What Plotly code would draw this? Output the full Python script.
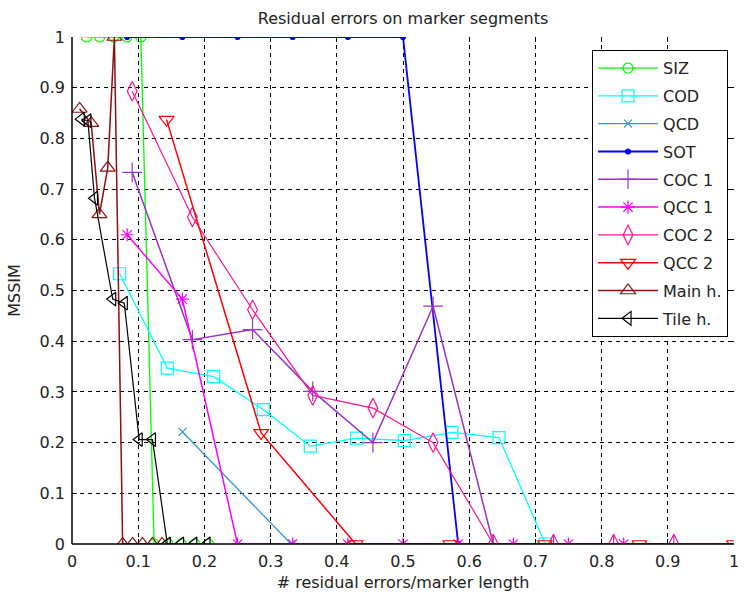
import plotly.graph_objects as go

# ---- data ----
siz_x = [0.022, 0.042, 0.063, 0.083, 0.104, 0.124, 0.145, 0.165, 0.186, 0.206]
siz_y = [1, 1, 1, 1, 1, 0, 0, 0, 0, 0]

cod_x = [0.072, 0.144, 0.214, 0.289, 0.360, 0.430, 0.502, 0.574, 0.645, 0.715]
cod_y = [0.533, 0.347, 0.330, 0.265, 0.193, 0.209, 0.204, 0.220, 0.210, 0.0]

qcd_x = [0.167, 0.331]
qcd_y = [0.221, 0.0]

sot_x = [1/12, 2/12, 3/12, 4/12, 5/12, 6/12, 7/12]
sot_y = [1, 1, 1, 1, 1, 1, 0]

coc1_x = [k/11 for k in range(1, 11)]
coc1_y = [0.733, 0.403, 0.423, 0.301, 0.200, 0.469, 0, 0, 0, 0]

qcc1_x = [k/12 for k in range(1, 11)]
qcc1_y = [0.610, 0.483, 0, 0, 0, 0, 0, 0, 0, 0]

coc2_x = [k/11 for k in range(1, 11)]
coc2_y = [0.893, 0.645, 0.462, 0.293, 0.268, 0.200, 0, 0, 0, 0]

qcc2_x = [k/7 for k in range(1, 8)]
qcc2_y = [0.837, 0.219, 0, 0, 0, 0, 0]

mainh_x = [0.0115, 0.029, 0.0415, 0.054, 0.064, 0.0765, 0.0915, 0.1065, 0.1215, 0.136]
mainh_y = [0.858, 0.830, 0.650, 0.742, 1.0, 0, 0, 0, 0, 0]

tileh_x = [0.014, 0.024, 0.034, 0.0615, 0.079, 0.1015, 0.1215, 0.144, 0.164, 0.184, 0.204]
tileh_y = [0.838, 0.835, 0.682, 0.483, 0.475, 0.206, 0.206, 0, 0, 0, 0]

series = [
    ("SIZ", siz_x, siz_y, "#00ff00", "circle-open", 10, 1.3),
    ("COD", cod_x, cod_y, "#00ffff", "square-open", 12, 1.3),
    ("QCD", qcd_x, qcd_y, "#3399dd", "x-thin-open", 8, 1.3),
    ("SOT", sot_x, sot_y, "#0000ff", "circle", 5, 1.8),
    ("COC 1", coc1_x, coc1_y, "#9933cc", "cross-thin-open", 14, 1.5),
    ("QCC 1", qcc1_x, qcc1_y, "#ff00ff", "asterisk-open", 11, 1.5),
    ("COC 2", coc2_x, coc2_y, "#ff1493", "diamond-tall-open", 14, 1.2),
    ("QCC 2", qcc2_x, qcc2_y, "#ff0000", "triangle-down-open", 13, 1.5),
    ("Main h.", mainh_x, mainh_y, "#8b1010", "triangle-up-open", 13, 1.5),
    ("Tile h.", tileh_x, tileh_y, "#000000", "triangle-left-open", 12, 1.2),
]

fig = go.Figure()
for name, xs, ys, col, sym, sz, lw in series:
    fig.add_trace(go.Scatter(
        x=xs, y=ys, name=name, mode="lines+markers", legendgroup=name,
        line=dict(color=col, width=lw),
        marker=dict(symbol=sym, size=sz, color=col, line=dict(color=col, width=1.2)),
    ))

font = "DejaVu Sans, Liberation Sans, sans-serif"
ticks = [i / 10 for i in range(11)]
tick_text = ["0"] + [f"{t:.1f}" for t in ticks[1:-1]] + ["1"]

axis_common = dict(
    range=[0, 1], tickvals=ticks, ticktext=tick_text,
    showgrid=True, gridcolor="black", gridwidth=1, griddash="4px,4px",
    showline=False, mirror="ticks", ticks="inside", ticklen=5, tickcolor="black",
    zeroline=False, tickfont=dict(family=font, size=16, color="#222222"),
    ticklabelstandoff=6,
)

fig.update_layout(
    width=746, height=597,
    margin=dict(l=72, r=7, t=37, b=53),
    paper_bgcolor="white", plot_bgcolor="white",
    title=dict(text="Residual errors on marker segments", x=0.5, xref="paper",
               y=1, yref="paper", yanchor="bottom", pad=dict(b=13),
               font=dict(family=font, size=16, color="#222222")),
    xaxis=dict(axis_common, title=dict(text="# residual errors/marker length",
               font=dict(family=font, size=16, color="#222222"), standoff=6)),
    yaxis=dict(axis_common, title=dict(text="MSSIM",
               font=dict(family=font, size=16, color="#222222"), standoff=14)),
    legend=dict(x=0.991, y=0.974, xanchor="right", yanchor="top",
                bgcolor="white", bordercolor="black", borderwidth=1,
                font=dict(family=font, size=16, color="#222222"),
                tracegroupgap=4, itemwidth=60),
    showlegend=True,
)

# axis lines (left and bottom)
fig.add_shape(type="line", xref="paper", yref="paper", x0=0, y0=0, x1=1, y1=0,
              line=dict(color="black", width=1.5), layer="above")
fig.add_shape(type="line", xref="paper", yref="paper", x0=0, y0=0, x1=0, y1=1,
              line=dict(color="black", width=1.5), layer="above")

fig.write_html("out.html")
